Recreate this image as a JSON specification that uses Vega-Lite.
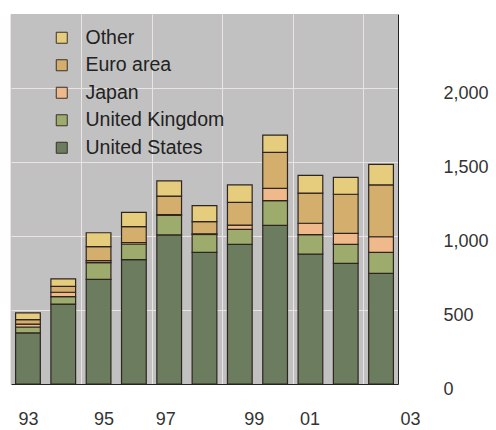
{
  "$schema": "https://vega.github.io/schema/vega-lite/v6.json",
  "width": 387,
  "height": 370,
  "autosize": {"type": "none"},
  "padding": {"left": 11, "top": 14, "right": 98, "bottom": 46},
  "background": "white",
  "config": {
    "view": {"fill": "#c1c1c1", "stroke": null},
    "font": "Liberation Sans"
  },
  "data": {
    "values": [
      {"year": "93", "series": "United States", "rank": 1, "value": 345},
      {"year": "93", "series": "United Kingdom", "rank": 2, "value": 40},
      {"year": "93", "series": "Japan", "rank": 3, "value": 20},
      {"year": "93", "series": "Euro area", "rank": 4, "value": 30},
      {"year": "93", "series": "Other", "rank": 5, "value": 45},
      {"year": "94", "series": "United States", "rank": 1, "value": 540},
      {"year": "94", "series": "United Kingdom", "rank": 2, "value": 50},
      {"year": "94", "series": "Japan", "rank": 3, "value": 30},
      {"year": "94", "series": "Euro area", "rank": 4, "value": 40},
      {"year": "94", "series": "Other", "rank": 5, "value": 50},
      {"year": "95", "series": "United States", "rank": 1, "value": 707},
      {"year": "95", "series": "United Kingdom", "rank": 2, "value": 113},
      {"year": "95", "series": "Japan", "rank": 3, "value": 13},
      {"year": "95", "series": "Euro area", "rank": 4, "value": 95},
      {"year": "95", "series": "Other", "rank": 5, "value": 94},
      {"year": "96", "series": "United States", "rank": 1, "value": 840},
      {"year": "96", "series": "United Kingdom", "rank": 2, "value": 106},
      {"year": "96", "series": "Japan", "rank": 3, "value": 10},
      {"year": "96", "series": "Euro area", "rank": 4, "value": 107},
      {"year": "96", "series": "Other", "rank": 5, "value": 97},
      {"year": "97", "series": "United States", "rank": 1, "value": 1007},
      {"year": "97", "series": "United Kingdom", "rank": 2, "value": 133},
      {"year": "97", "series": "Japan", "rank": 3, "value": 5},
      {"year": "97", "series": "Euro area", "rank": 4, "value": 125},
      {"year": "97", "series": "Other", "rank": 5, "value": 102},
      {"year": "98", "series": "United States", "rank": 1, "value": 890},
      {"year": "98", "series": "United Kingdom", "rank": 2, "value": 120},
      {"year": "98", "series": "Japan", "rank": 3, "value": 5},
      {"year": "98", "series": "Euro area", "rank": 4, "value": 82},
      {"year": "98", "series": "Other", "rank": 5, "value": 108},
      {"year": "99", "series": "United States", "rank": 1, "value": 944},
      {"year": "99", "series": "United Kingdom", "rank": 2, "value": 101},
      {"year": "99", "series": "Japan", "rank": 3, "value": 29},
      {"year": "99", "series": "Euro area", "rank": 4, "value": 153},
      {"year": "99", "series": "Other", "rank": 5, "value": 118},
      {"year": "00", "series": "United States", "rank": 1, "value": 1072},
      {"year": "00", "series": "United Kingdom", "rank": 2, "value": 167},
      {"year": "00", "series": "Japan", "rank": 3, "value": 83},
      {"year": "00", "series": "Euro area", "rank": 4, "value": 243},
      {"year": "00", "series": "Other", "rank": 5, "value": 117},
      {"year": "01", "series": "United States", "rank": 1, "value": 877},
      {"year": "01", "series": "United Kingdom", "rank": 2, "value": 132},
      {"year": "01", "series": "Japan", "rank": 3, "value": 77},
      {"year": "01", "series": "Euro area", "rank": 4, "value": 204},
      {"year": "01", "series": "Other", "rank": 5, "value": 120},
      {"year": "02", "series": "United States", "rank": 1, "value": 815},
      {"year": "02", "series": "United Kingdom", "rank": 2, "value": 129},
      {"year": "02", "series": "Japan", "rank": 3, "value": 74},
      {"year": "02", "series": "Euro area", "rank": 4, "value": 264},
      {"year": "02", "series": "Other", "rank": 5, "value": 114},
      {"year": "03", "series": "United States", "rank": 1, "value": 748},
      {"year": "03", "series": "United Kingdom", "rank": 2, "value": 142},
      {"year": "03", "series": "Japan", "rank": 3, "value": 105},
      {"year": "03", "series": "Euro area", "rank": 4, "value": 350},
      {"year": "03", "series": "Other", "rank": 5, "value": 139}
    ]
  },
  "mark": {"type": "bar", "stroke": "#2e2420", "strokeWidth": 1.2},
  "encoding": {
    "x": {
      "field": "year",
      "type": "ordinal",
      "sort": ["93", "94", "95", "96", "97", "98", "99", "00", "01", "02", "03"],
      "scale": {"paddingInner": 0.3, "paddingOuter": 0.13},
      "axis": {
        "title": null,
        "values": ["93", "95", "97", "99", "01", "03"],
        "bandPosition": 0.5,
        "tickOffset": -17.6,
        "labelOffset": {
          "condition": [
            {"test": "datum.value == '95'", "value": 22.6},
            {"test": "datum.value == '97'", "value": 13.6},
            {"test": "datum.value == '99'", "value": 31.6},
            {"test": "datum.value == '01'", "value": 16.6},
            {"test": "datum.value == '03'", "value": 46.6}
          ],
          "value": 17.6
        },
        "ticks": false,
        "labelAngle": 0,
        "labelFontSize": 18,
        "labelPadding": 26,
        "labelColor": "#333333",
        "domainColor": "#222222",
        "grid": true,
        "gridColor": "#ece4e4"
      }
    },
    "y": {
      "field": "value",
      "type": "quantitative",
      "stack": "zero",
      "scale": {"domain": [0, 2500], "nice": false},
      "axis": {
        "orient": "right",
        "title": null,
        "values": [0, 500, 1000, 1500, 2000],
        "format": ",d",
        "ticks": false,
        "labelAlign": "left",
        "labelPadding": 45,
        "labelOffset": 5,
        "labelFontSize": 18,
        "labelColor": "#333333",
        "domainColor": "#222222",
        "gridColor": "#ece4e4"
      }
    },
    "order": {"field": "rank", "type": "quantitative", "sort": "ascending"},
    "color": {
      "field": "series",
      "type": "nominal",
      "sort": ["Other", "Euro area", "Japan", "United Kingdom", "United States"],
      "scale": {
        "domain": ["Other", "Euro area", "Japan", "United Kingdom", "United States"],
        "range": ["#e5cd7d", "#d4ae6c", "#f0b98b", "#9dab6c", "#6b7d5e"]
      },
      "legend": {
        "title": null,
        "orient": "none",
        "legendX": 41,
        "legendY": 14,
        "padding": 0,
        "symbolType": "square",
        "symbolSize": 121,
        "symbolStrokeColor": "#3b302c",
        "symbolStrokeWidth": 1,
        "symbolOpacity": 1,
        "labelFontSize": 19.5,
        "labelColor": "#222222",
        "labelOffset": 14,
        "rowPadding": 6.5
      }
    }
  }
}
